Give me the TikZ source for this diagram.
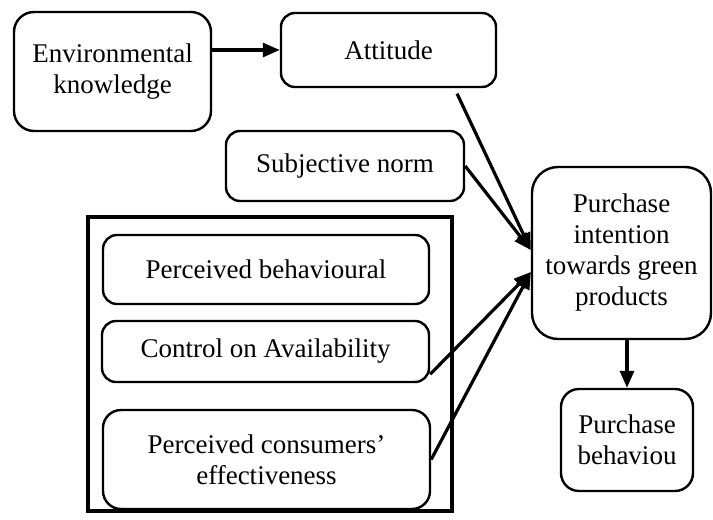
\documentclass[tikz,border=0pt]{standalone}
\usepackage{fontspec}
\setmainfont{Liberation Serif}
\usetikzlibrary{arrows.meta,positioning,calc}

\begin{document}
\begin{tikzpicture}[>={Triangle[length=8.5pt,width=7pt]},x=0.5pt,y=-0.5pt,
  box/.style={draw,line width=1.2pt,rounded corners=7pt,align=center,inner sep=0pt,
    font=\fontsize{13.5}{15.5}\selectfont},
  link/.style={->,line width=1.6pt}]
\useasboundingbox (0,0) rectangle (713,520);
\node[box,rounded corners=10pt,minimum width=98.5pt,minimum height=59.5pt] (envk) at (112.5,71.5) {Environmental\\knowledge};
\node[box,minimum width=107.5pt,minimum height=37pt] (att) at (388.5,50) {Attitude};
\node[box,minimum width=119pt,minimum height=35pt] (subj) at (345,166) {Subjective norm};
\draw[line width=1.8pt] (88,217) rectangle (452,511);
\node[box,minimum width=163pt,minimum height=34.5pt] (pbc) at (266,269.5) {Perceived behavioural};
\node[box,minimum width=163.5pt,minimum height=30.5pt] (avail) at (265.5,351.5) {Control on Availability};
\node[box,rounded corners=9pt,minimum width=163.5pt,minimum height=49.5pt] (pce) at (266.5,459.5) {Perceived consumers'\\effectiveness};
\node[box,rounded corners=13pt,minimum width=89.5pt,minimum height=86pt] (pi) at (621.5,253) {Purchase\\intention\\towards green\\products};
\node[box,rounded corners=9pt,minimum width=66pt,minimum height=51pt] (pb) at (627,440) {Purchase\\behaviou};
\coordinate (inup) at ([yshift=1.5pt]pi.west);
\coordinate (indown) at ([yshift=-9.5pt]pi.west);
% arrows
\draw[link] (envk.east |- att.west) -- (att.west);
\draw[link,shorten <=3pt] ([xshift=33pt]att.south) -- (inup);
\draw[link] (subj.east) -- (inup);
\draw[link] ([yshift=4.5pt]avail.south east) -- (indown);
\draw[link] (pce.east) -- (indown);
\draw[link] (pb.north |- pi.south) -- (pb.north);
\end{tikzpicture}
\end{document}
